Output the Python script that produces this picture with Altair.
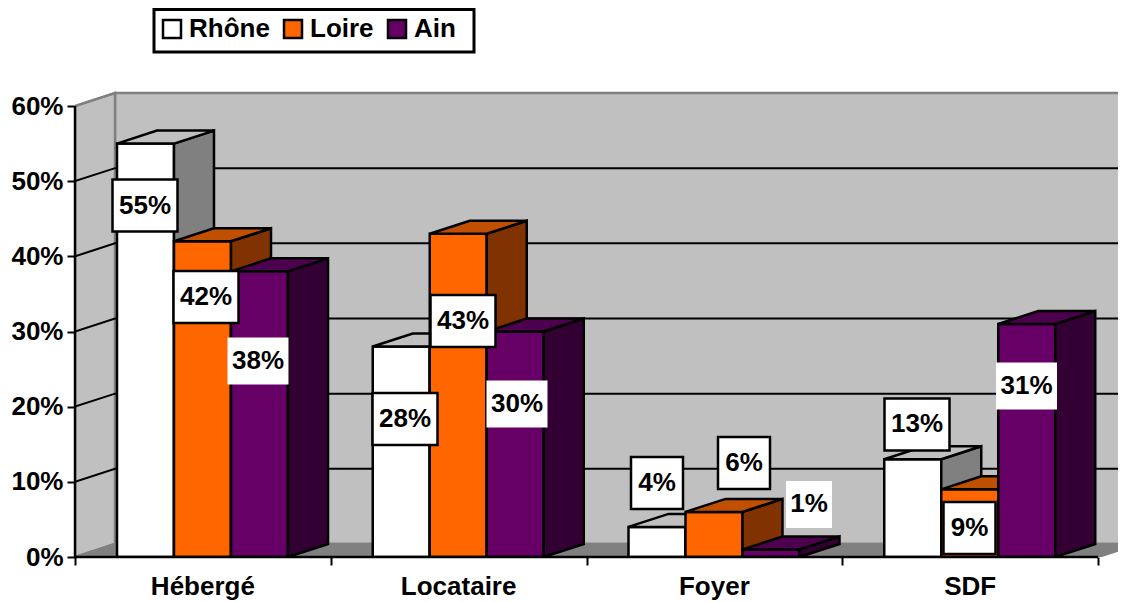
import altair as alt
import pandas as pd

categories = ["Hébergé", "Locataire", "Foyer", "SDF"]
series = ["Rhône", "Loire", "Ain"]
rhone = [55, 28, 4, 13]
loire = [42, 43, 6, 9]
ain = [38, 30, 1, 31]
y_ticks = [0, 10, 20, 30, 40, 50, 60]
x_ticks = [0, 1, 2, 3, 4]

# pixel geometry of the plot area
W, H = 1043, 549
PX_PER_CAT = 255.75
PX_PER_PCT = 451 / 60
DX = 40 / PX_PER_CAT
DY = 13 / PX_PER_PCT
BAR_W = 57 / PX_PER_CAT
BAR_START = 42 / PX_PER_CAT
FONT = "Liberation Sans"
FS = 26

front = ["#FFFFFF", "#FF6600", "#660066"]
side = ["#808080", "#803300", "#330033"]
top = ["#C0C0C0", "#C05000", "#4D004D"]

# label centre offset from the bar's top centre, px (right, down)
label_offsets = [
    [(-0.5, 62), (3.5, 55.7), (-1.5, 89.6)],
    [(3.75, 72.5), (4.75, 87.2), (1.75, 72.5)],
    [(0, -43.9), (30, -48.9), (38, -45)],
    [(4.25, -34.8), (-0.25, 38.7), (-0.25, 62)],
]
box_bordered = [True, True, False]

polys = []
def poly(pid, fill, stroke, pts):
    for x, y, y2 in pts:
        polys.append(dict(pid=pid, fill=fill, stroke=stroke, x=x, y=y, y2=y2))

G = "#808080"
poly("wall", "#C0C0C0", G, [(DX, DY, 60 + DY), (4 + 2 * DX, DY, 60 + DY)])
poly("sidewall", "#C0C0C0", G, [(0, 0, 60), (DX, DY, 60 + DY)])
poly("floor", G, G, [(0, 0, 0), (DX, 0, DY), (4, 0, DY), (4 + DX, DY, DY)])

grid_rows = []
for v in y_ticks[1:]:
    c = "#808080" if v == 60 else "#000000"
    for x, y in [(0, v), (DX, v + DY), (4 + 2 * DX, v + DY)]:
        grid_rows.append(dict(g=v, c=c, x=x, y=y))

values = [rhone, loire, ain]
labels = []
for i, cat in enumerate(categories):
    for s in range(3):
        v = values[s][i]
        x0 = i + BAR_START + s * BAR_W
        x1 = x0 + BAR_W
        pid = f"{i}-{s}"
        poly(pid + "f", front[s], "#000000", [(x0, 0, v), (x1, 0, v)])
        poly(pid + "s", side[s], "#000000", [(x1, 0, v), (x1 + DX, DY, v + DY)])
        poly(pid + "t", top[s], "#000000",
             [(x0, v, v), (x0 + DX, v, v + DY), (x1, v, v + DY), (x1 + DX, v + DY, v + DY)])
        ox, oy = label_offsets[i][s]
        cx = (x0 + x1) / 2 + ox / PX_PER_CAT
        cy = v - oy / PX_PER_PCT
        txt = f"{v}%"
        bordered = box_bordered[s]
        bw = (65 if len(txt) == 3 else 52) if bordered else (61 if len(txt) == 3 else 46)
        bh = 52 if bordered else 47
        labels.append(dict(txt=txt, x=cx, y=cy, bordered=bordered,
                           x0=cx - bw / 2 / PX_PER_CAT, x1=cx + bw / 2 / PX_PER_CAT,
                           y0=cy - bh / 2 / PX_PER_PCT, y1=cy + bh / 2 / PX_PER_PCT))

poly_df = pd.DataFrame(polys)
grid_df = pd.DataFrame(grid_rows)
label_df = pd.DataFrame(labels)

xs = alt.Scale(domain=[0, W / PX_PER_CAT], nice=False, zero=False)
ys = alt.Scale(domain=[0, H / PX_PER_PCT], nice=False, zero=False)
X = lambda f="x": alt.X(f"{f}:Q", scale=xs, title=None)
Y = lambda f="y": alt.Y(f"{f}:Q", scale=ys, title=None, stack=None)

axes = alt.Chart(pd.DataFrame({"x": [0], "y": [0]})).mark_point(opacity=0).encode(
    x=alt.X("x:Q", scale=xs, title=None,
            axis=alt.Axis(values=x_ticks, labels=False, domain=False, grid=False, tickColor="#000000",
                          tickSize=8, tickWidth=2)),
    y=alt.Y("y:Q", scale=ys, title=None,
            axis=alt.Axis(values=y_ticks, labelExpr="datum.value + '%'", domain=False, grid=False,
                          tickColor="#000000", tickSize=8, tickWidth=2, labelFont=FONT, labelFontSize=FS,
                          labelFontWeight="bold", labelColor="#000000", labelPadding=4)),
)

back = poly_df[~poly_df.pid.str.contains("-")]
bars = poly_df[poly_df.pid.str.contains("-")]

def area_layer(df):
    return alt.Chart(df).mark_area(strokeWidth=2.5, strokeJoin="miter", clip=True).encode(
        x=X(), y=Y(), y2=alt.Y2("y2:Q"),
        fill=alt.Fill("fill:N", scale=None),
        stroke=alt.Stroke("stroke:N", scale=None),
        detail="pid:N",
    )

grid = alt.Chart(grid_df).mark_line(strokeWidth=2, clip=True).encode(
    x=X(), y=Y(), detail="g:N", stroke=alt.Stroke("c:N", scale=None), order=alt.Order("x:Q"),
)

axis_lines = alt.Chart(pd.DataFrame([
    dict(a=0, x=0, y=0), dict(a=0, x=0, y=60),
    dict(a=1, x=0, y=0), dict(a=1, x=4, y=0),
])).mark_line(color="#000000", strokeWidth=2.5).encode(x=X(), y=Y(), detail="a:N")

box_b = alt.Chart(label_df[label_df.bordered]).mark_rect(fill="#FFFFFF", stroke="#000000", strokeWidth=2.5).encode(
    x=X("x0"), x2="x1:Q", y=Y("y0"), y2="y1:Q")
box_n = alt.Chart(label_df[~label_df.bordered]).mark_rect(fill="#FFFFFF").encode(
    x=X("x0"), x2="x1:Q", y=Y("y0"), y2="y1:Q")
label_text = alt.Chart(label_df).mark_text(font=FONT, fontSize=FS, fontWeight="bold", color="#000000",
                                           baseline="middle").encode(x=X(), y=Y(), text="txt:N")

cat_df = pd.DataFrame({"cat": categories, "x": [i + 0.5 for i in range(4)], "y": [-30 / PX_PER_PCT] * 4})
cat_text = alt.Chart(cat_df).mark_text(font=FONT, fontSize=FS, fontWeight="bold", color="#000000",
                                       baseline="middle").encode(x=X(), y=Y(), text="cat:N")

# legend frame (wider than a native legend's symmetric padding allows), drawn behind the native legend
legend_frame = alt.Chart(pd.DataFrame([dict(
    x0=79 / PX_PER_CAT, x1=399 / PX_PER_CAT, y0=(H - 44) / PX_PER_PCT, y1=(H - 1.5) / PX_PER_PCT
)])).mark_rect(fill="#FFFFFF", stroke="#000000", strokeWidth=3).encode(
    x=X("x0"), x2="x1:Q", y=Y("y0"), y2="y1:Q")

legend_layer = alt.Chart(pd.DataFrame({"s": series, "x": [1, 1, 1], "y": [1, 1, 1]})).mark_point(
    filled=True, opacity=0).encode(
    x=X(), y=Y(),
    color=alt.Color("s:N", scale=alt.Scale(domain=series, range=front), legend=alt.Legend(
        orient="none", legendX=76, legendY=0, direction="horizontal", columns=3, title=None,
        padding=8,
        symbolType="square", symbolSize=324, symbolStrokeColor="#000000", symbolStrokeWidth=2.5,
        symbolOpacity=1, labelFont=FONT, labelFontSize=26, labelFontWeight="bold", labelColor="#000000",
        labelOffset=4, columnPadding=9, labelLimit=200, values=series)),
)

chart = alt.layer(
    axes, area_layer(back), grid, area_layer(bars), axis_lines, box_b, box_n, label_text, cat_text,
    legend_frame, legend_layer
).properties(
    width=W, height=H, background="#FFFFFF",
    autosize=alt.AutoSizeParams(type="none"),
    padding={"left": 67, "top": 0, "right": 0, "bottom": 46},
).configure_view(stroke=None)

chart.save("out.html", embed_options={"renderer": "svg", "actions": False})
